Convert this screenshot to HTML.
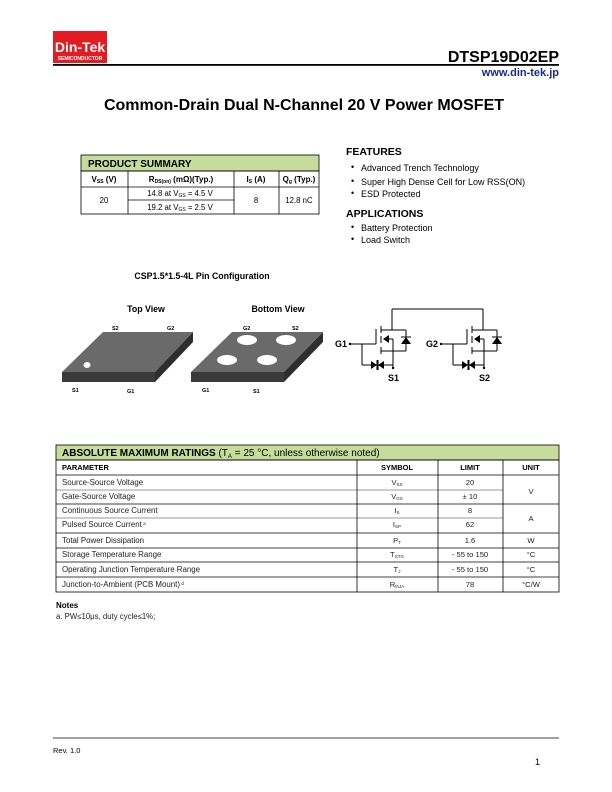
<!DOCTYPE html>
<html><head><meta charset="utf-8"><style>
html,body{margin:0;padding:0;background:#fff;}
svg{display:block;font-family:"Liberation Sans",Arial,sans-serif;}
</style></head><body>
<svg width="612" height="792" viewBox="0 0 612 792" xmlns="http://www.w3.org/2000/svg">
<!-- header -->
<rect x="53" y="31" width="54" height="32" fill="#e31b23"/>
<text x="80" y="52" font-size="14" font-weight="bold" fill="#fff" text-anchor="middle">Din-Tek</text>
<text x="80" y="60" font-size="5" font-weight="bold" fill="#fff" text-anchor="middle">SEMICONDUCTOR</text>
<text x="559" y="62" font-size="16" font-weight="bold" text-anchor="end">DTSP19D02EP</text>
<rect x="53" y="64" width="506" height="1.8" fill="#000"/>
<text x="559" y="76" font-size="11" font-weight="bold" fill="#1a2a8c" text-anchor="end">www.din-tek.jp</text>
<text x="304" y="110" font-size="16" font-weight="bold" text-anchor="middle">Common-Drain Dual N-Channel 20 V Power MOSFET</text>

<!-- product summary -->
<g stroke="#000" stroke-width="0.8" fill="none">
<rect x="81" y="155" width="238" height="16" fill="#c6dc9a"/>
<rect x="81" y="171" width="238" height="43"/>
<line x1="81" y1="187" x2="319" y2="187"/>
<line x1="128" y1="200" x2="234" y2="200"/>
<line x1="128" y1="171" x2="128" y2="214"/>
<line x1="234" y1="171" x2="234" y2="214"/>
<line x1="279" y1="171" x2="279" y2="214"/>
</g>
<text x="88" y="167" font-size="10" font-weight="bold">PRODUCT SUMMARY</text>
<g font-size="8" font-weight="bold" text-anchor="middle">
<text x="104" y="182">V<tspan font-size="5" dy="1">SS</tspan><tspan dy="-1"> (V)</tspan></text>
<text x="181" y="182">R<tspan font-size="5" dy="1">DS(on)</tspan><tspan dy="-1"> (mΩ)(Typ.)</tspan></text>
<text x="256" y="182">I<tspan font-size="5" dy="1">S</tspan><tspan dy="-1"> (A)</tspan></text>
<text x="299" y="182">Q<tspan font-size="5" dy="1">g</tspan><tspan dy="-1"> (Typ.)</tspan></text>
</g>
<g font-size="7.8" text-anchor="middle">
<text x="104" y="203">20</text>
<text x="180" y="196">14.8 at V<tspan font-size="5" dy="1">GS</tspan><tspan dy="-1"> = 4.5 V</tspan></text>
<text x="180" y="210">19.2 at V<tspan font-size="5" dy="1">GS</tspan><tspan dy="-1"> = 2.5 V</tspan></text>
<text x="256" y="203">8</text>
<text x="299" y="203">12.8 nC</text>
</g>

<!-- features -->
<text x="346" y="155" font-size="10.5" font-weight="bold">FEATURES</text>
<g font-size="9">
<text x="351" y="170">•</text><text x="361" y="171">Advanced Trench Technology</text>
<text x="351" y="184">•</text><text x="361" y="185">Super High Dense Cell for Low RSS(ON)</text>
<text x="351" y="196">•</text><text x="361" y="197">ESD Protected</text>
</g>
<text x="346" y="217" font-size="10.5" font-weight="bold">APPLICATIONS</text>
<g font-size="9">
<text x="351" y="230">•</text><text x="361" y="231">Battery Protection</text>
<text x="351" y="242">•</text><text x="361" y="243">Load Switch</text>
</g>

<!-- pin config -->
<text x="202" y="279" font-size="8.8" font-weight="bold" text-anchor="middle">CSP1.5*1.5-4L Pin Configuration</text>
<text x="146" y="312" font-size="8.8" font-weight="bold" text-anchor="middle">Top View</text>
<text x="278" y="312" font-size="8.8" font-weight="bold" text-anchor="middle">Bottom View</text>

<polygon points="103,332 193,332 155,372 62,372" fill="#6a6a6a"/>
<polygon points="62,372 155,372 155,382 62,382" fill="#3a3a3a"/>
<polygon points="155,372 193,332 193,342 155,382" fill="#2e2e2e"/>
<ellipse cx="87" cy="365" rx="3.5" ry="3" fill="#fff"/>
<g font-size="5.5" font-weight="bold">
<text x="112" y="330">S2</text><text x="167" y="330">G2</text>
<text x="72" y="392">S1</text><text x="127" y="393">G1</text>
</g>

<polygon points="232,332 323,332 284,372 191,372" fill="#6a6a6a"/>
<polygon points="191,372 284,372 284,382 191,382" fill="#3a3a3a"/>
<polygon points="284,372 323,332 323,342 284,382" fill="#2e2e2e"/>
<g fill="#fff">
<ellipse cx="247" cy="340" rx="10" ry="5"/><ellipse cx="286" cy="340" rx="10" ry="5"/>
<ellipse cx="227" cy="360" rx="10" ry="5"/><ellipse cx="267" cy="360" rx="10" ry="5"/>
</g>
<g font-size="5.5" font-weight="bold">
<text x="243" y="330">G2</text><text x="292" y="330">S2</text>
<text x="202" y="392">G1</text><text x="253" y="393">S1</text>
</g>

<!-- schematic -->
<line x1="392" y1="309" x2="483" y2="309" stroke="#000" stroke-width="1"/>
<g id="m1">
<g stroke="#000" stroke-width="1" fill="none">
<line x1="350" y1="344" x2="376" y2="344"/>
<line x1="376" y1="329" x2="376" y2="344"/>
<line x1="381" y1="326" x2="381" y2="333"/>
<line x1="381" y1="336" x2="381" y2="343"/>
<line x1="381" y1="347" x2="381" y2="354"/>
<line x1="381" y1="330" x2="406" y2="330"/>
<line x1="392" y1="309" x2="392" y2="330"/>
<line x1="406" y1="330" x2="406" y2="351"/>
<line x1="381" y1="351" x2="406" y2="351"/>
<line x1="384" y1="339" x2="393" y2="339"/>
<line x1="393" y1="339" x2="393" y2="368"/>
<line x1="362" y1="344" x2="362" y2="365"/>
<line x1="362" y1="365" x2="393" y2="365"/>
<line x1="401" y1="337" x2="411" y2="337"/>
<line x1="377" y1="360" x2="377" y2="370"/>
<line x1="378" y1="360" x2="378" y2="370"/>
</g>
<polygon points="401,344 411,344 406,337" fill="#000"/>
<polygon points="383,339 389,335 389,343" fill="#000"/>
<polygon points="371,361 371,369 377,365" fill="#000"/>
<polygon points="384,361 384,369 378,365" fill="#000"/>
<circle cx="350" cy="344" r="1.2" fill="#000"/>
<circle cx="393" cy="368" r="1.2" fill="#000"/>
</g>
<use href="#m1" transform="translate(91,0)"/>
<g font-size="9" font-weight="bold">
<text x="335" y="347">G1</text><text x="426" y="347">G2</text>
<text x="388" y="381">S1</text><text x="479" y="381">S2</text>
</g>

<!-- abs max table -->
<g stroke="#000" stroke-width="0.8" fill="none">
<rect x="56" y="445" width="503" height="15" fill="#c6dc9a"/>
<rect x="56" y="460" width="503" height="132"/>
<line x1="56" y1="475" x2="559" y2="475"/>
<line x1="56" y1="490" x2="503" y2="490" stroke-width="0.4"/>
<line x1="56" y1="504" x2="559" y2="504"/>
<line x1="56" y1="518" x2="503" y2="518" stroke-width="0.4"/>
<line x1="56" y1="533" x2="559" y2="533"/>
<line x1="56" y1="548" x2="559" y2="548"/>
<line x1="56" y1="562" x2="559" y2="562"/>
<line x1="56" y1="577" x2="559" y2="577"/>
<line x1="357" y1="460" x2="357" y2="592"/>
<line x1="438" y1="460" x2="438" y2="592"/>
<line x1="503" y1="460" x2="503" y2="592"/>
</g>
<text x="62" y="456" font-size="10"><tspan font-weight="bold">ABSOLUTE MAXIMUM RATINGS</tspan> (T<tspan font-size="6" dy="2">A</tspan><tspan dy="-2"> = 25 °C, unless otherwise noted)</tspan></text>
<g font-size="7.5" font-weight="bold">
<text x="62" y="470">PARAMETER</text>
<text x="397" y="470" text-anchor="middle">SYMBOL</text>
<text x="470" y="470" text-anchor="middle">LIMIT</text>
<text x="531" y="470" text-anchor="middle">UNIT</text>
</g>
<g font-size="7.9" fill="#222">
<text x="62" y="485">Source-Source Voltage</text>
<text x="62" y="499">Gate-Source Voltage</text>
<text x="62" y="513">Continuous Source Current</text>
<text x="62" y="527">Pulsed Source Current<tspan font-size="4.5" dy="-2"> a</tspan></text>
<text x="62" y="543">Total Power Dissipation</text>
<text x="62" y="557">Storage Temperature Range</text>
<text x="62" y="572">Operating Junction Temperature Range</text>
<text x="62" y="587">Junction-to-Ambient (PCB Mount)<tspan font-size="4.5" dy="-2"> d</tspan></text>
</g>
<g font-size="7.6" fill="#222" text-anchor="middle">
<text x="397" y="485">V<tspan font-size="4.5" dy="1">SS</tspan></text>
<text x="397" y="499">V<tspan font-size="4.5" dy="1">GS</tspan></text>
<text x="397" y="513">I<tspan font-size="4.5" dy="1">S</tspan></text>
<text x="397" y="527">I<tspan font-size="4.5" dy="1">SP</tspan></text>
<text x="397" y="543">P<tspan font-size="4.5" dy="1">T</tspan></text>
<text x="397" y="557">T<tspan font-size="4.5" dy="1">STG</tspan></text>
<text x="397" y="572">T<tspan font-size="4.5" dy="1">J</tspan></text>
<text x="397" y="587">R<tspan font-size="4.5" dy="1">thJA</tspan></text>
<text x="470" y="485">20</text>
<text x="470" y="499">± 10</text>
<text x="470" y="513">8</text>
<text x="470" y="527">62</text>
<text x="470" y="543">1.6</text>
<text x="470" y="557">- 55 to 150</text>
<text x="470" y="572">- 55 to 150</text>
<text x="470" y="587">78</text>
<text x="531" y="494">V</text>
<text x="531" y="521">A</text>
<text x="531" y="543">W</text>
<text x="531" y="557">°C</text>
<text x="531" y="572">°C</text>
<text x="531" y="587">°C/W</text>
</g>
<text x="56" y="608" font-size="8" font-weight="bold">Notes</text>
<text x="56" y="619" font-size="7.8" fill="#222">a.  PW≤10μs, duty cycle≤1%;</text>

<!-- footer -->
<line x1="53" y1="738" x2="559" y2="738" stroke="#000" stroke-width="0.8"/>
<text x="53" y="753" font-size="7.5">Rev. 1.0</text>
<text x="535" y="765" font-size="9">1</text>
</svg>
</body></html>
